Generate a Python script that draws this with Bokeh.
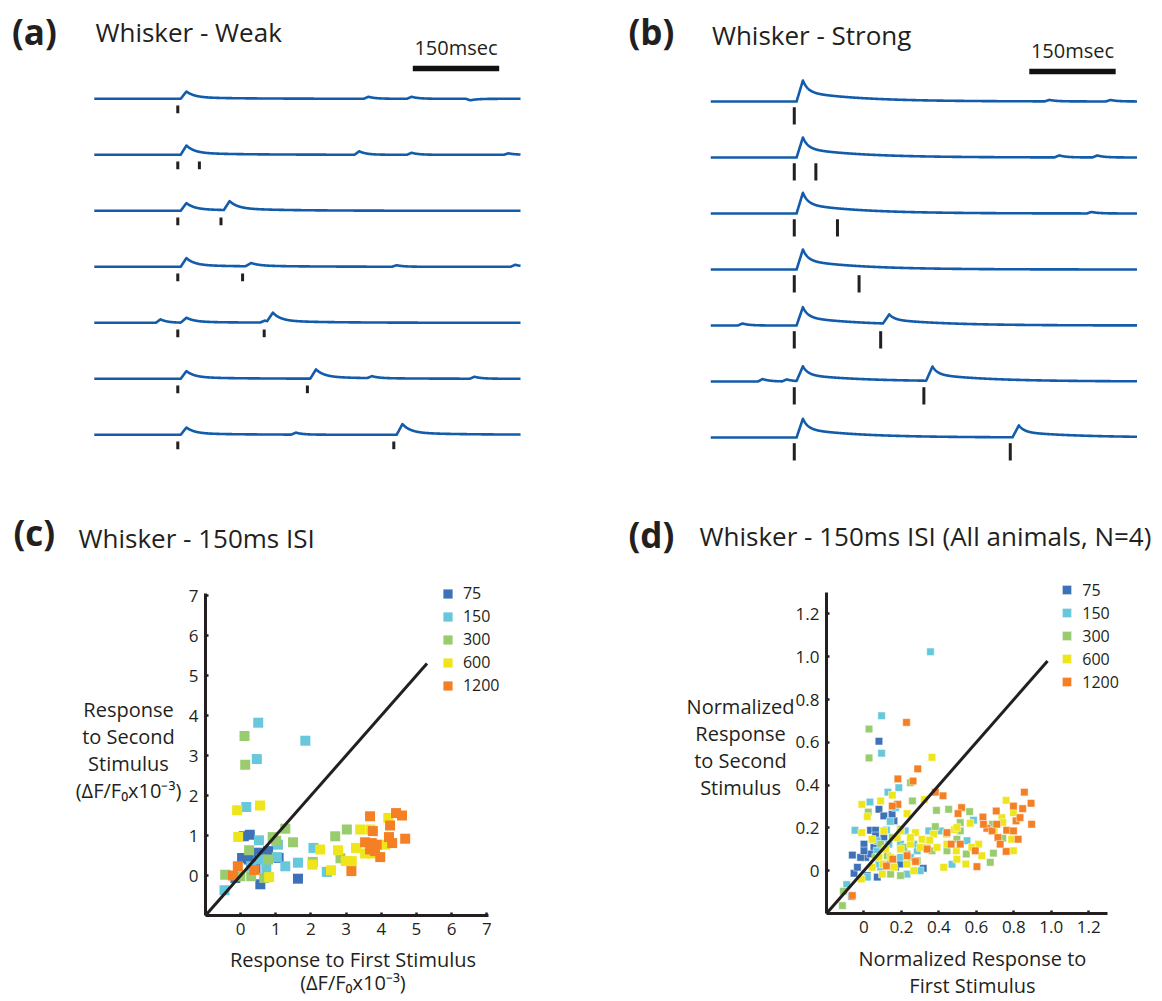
import numpy as np
from bokeh.plotting import figure
from bokeh.models import Range1d, Label, Legend, LegendItem, FixedTicker
from bokeh.layouts import row, column
from bokeh.embed import file_html
from bokeh.resources import INLINE

FONT = "Open Sans"
INK = "#231f20"
TRACE_BLUE = "#135cab"

# ---------------- panels (a) and (b): example traces ----------------
# times in ms relative to the first whisker stimulus
ISI_MS = [0, 37.5, 75, 112.5, 150, 225, 375]          # 0 = single stimulus
TRACE_T0, TRACE_T1 = -145, 595

WEAK_FIRST_AMP = [0.73, 0.93, 0.77, 0.87, 0.50, 0.77, 0.73]
WEAK_SECOND_AMP = [0.0, 0.0, 0.90, 0.33, 0.93, 0.93, 1.07]
WEAK_SMALL_ROW = [0, 0, 0, 1, 1, 1, 3, 3, 4, 4, 5, 5, 6]
WEAK_SMALL_T = [331, 406, 508, 315, 406, 574, 380, 586, -30, 151, 337, 515, 205]
WEAK_SMALL_AMP = [0.2, 0.2, -0.15, 0.35, 0.2, 0.15, 0.15, 0.2, 0.35, 0.2, 0.2, 0.2, 0.2]

STRONG_FIRST_AMP = [2.10, 2.00, 2.07, 2.00, 1.83, 1.50, 1.87]
STRONG_SECOND_AMP = [0.0, 0.0, 0.0, 0.0, 0.93, 1.43, 1.20]
STRONG_SMALL_ROW = [0, 0, 1, 1, 2, 4, 5, 5]
STRONG_SMALL_T = [443, 549, 460, 526, 516, -90, -55, -13]
STRONG_SMALL_AMP = [0.15, 0.15, 0.2, 0.2, 0.15, 0.2, 0.25, 0.2]

SCALE_BAR_MS = 150
SCALE_BAR_LABEL = "150msec"

# ---------------- panel (c): raw responses ----------------
SERIES = ["75", "150", "300", "600", "1200"]
COLORS = ["#3d72b8", "#67c8dc", "#99cc6e", "#efe51b", "#f47f24"]

C75_X = [0.26, 0.09, 0.04, 0.23, 0.51, 0.78, 1.08, -0.15, 0.56, 1.63, 0.42, 0.30]
C75_Y = [1.02, 0.98, 0.44, 0.40, 0.57, 0.61, 0.44, -0.06, -0.22, -0.08, 0.19, 0.30]
C150_X = [0.50, 0.46, 1.84, 0.16, 0.52, 1.06, 1.27, 1.63, 2.07, 2.45, -0.46, 0.73, 1.03, 0.58, 0.30]
C150_Y = [3.82, 2.91, 3.37, 1.71, 0.88, 0.77, 0.23, 0.32, 0.69, 0.09, -0.37, 0.17, 0.46, 0.40, 0.23]
C300_X = [0.11, 0.13, -0.44, 0.24, 0.91, 1.27, 1.49, 1.01, 0.78, 0.30, -0.01, 0.67, 2.69, 3.02, 2.84, 2.05]
C300_Y = [3.49, 2.77, 0.02, 0.63, 0.96, 1.17, 0.83, 0.87, 0.40, -0.02, -0.02, -0.06, 0.98, 1.15, 0.43, 0.34]
C600_X = [-0.10, 0.55, -0.07, 0.81, 2.26, 2.04, 2.57, 2.77, 2.99, 3.16, 3.28, 3.40, 3.69, 3.54, 3.73, 4.20, 4.11]
C600_Y = [1.63, 1.75, 0.96, -0.04, 0.65, 0.27, 0.13, 0.63, 0.36, 0.36, 0.69, 1.15, 1.15, 0.55, 0.55, 1.44, 0.77]
C1200_X = [-0.08, -0.22, 0.39, 3.68, 4.42, 4.59, 4.25, 3.76, 3.54, 3.73, 3.87, 3.68, 3.82, 3.97, 4.22, 4.31, 4.68, 3.15]
C1200_Y = [0.23, 0.00, 0.14, 1.48, 1.56, 1.50, 1.25, 1.11, 0.83, 0.81, 0.77, 0.65, 0.61, 0.46, 0.96, 0.81, 0.92, 0.11]
C_IDENTITY = [-1.0, 5.3]
C_AXIS_SPAN = (-1.0, 7.05)
C_TICKS = [0, 1, 2, 3, 4, 5, 6, 7]

# ---------------- panel (d): normalized responses, all animals ----------------
D75_X = [0.080, 0.080, 0.160, 0.035, 0.062, -0.062, -0.053, -0.035, 0.000, 0.009, 0.053, 0.106, 0.124,
         0.168, 0.195, 0.316, 0.150, -0.066, 0.018, 0.071, 0.106, -0.018, 0.098, 0.035, 0.062, 0.000]
D75_Y = [0.605, 0.287, 0.233, 0.189, 0.189, 0.073, -0.012, 0.016, 0.124, 0.062, 0.109, 0.155, 0.031,
         0.016, 0.031, 0.011, 0.264, -0.120, -0.023, -0.030, 0.256, 0.062, 0.109, 0.078, 0.163, 0.093]
D150_X = [0.355, 0.094, 0.094, 0.032, -0.048, 0.128, 0.186, 0.585, -0.092, 0.120, 0.140, 0.195, 0.230,
          0.018, 0.168, 0.284, 0.408, 0.470, 0.550, 0.070, 0.220, 0.300, 0.089, 0.071, 0.133, 0.195,
          0.266, 0.346, 0.080, 0.248]
D150_Y = [1.023, 0.724, 0.549, 0.321, 0.189, 0.367, 0.388, 0.236, -0.065, 0.190, 0.230, 0.124, -0.016,
          -0.030, 0.295, 0.093, 0.186, 0.030, 0.140, 0.093, 0.186, 0.000, 0.016, 0.140, 0.124, 0.062,
          0.124, 0.186, 0.031, 0.062]
D300_X = [0.027, 0.027, 0.023, 0.248, 0.259, 0.177, 0.387, 0.452, 0.564, 0.381, 0.514, 0.674, 0.741,
          0.691, 0.546, -0.115, -0.110, 0.195, 0.142, 0.106, 0.230, 0.443, 0.337, 0.062, 0.514, 0.496,
          0.686, 0.089, 0.151, 0.213, 0.284, 0.124, 0.363, 0.195]
D300_Y = [0.662, 0.527, 0.274, 0.411, 0.326, 0.310, 0.282, 0.287, 0.276, 0.206, 0.186, 0.039, 0.152,
          0.082, 0.078, -0.163, -0.096, -0.023, -0.016, 0.109, 0.078, 0.093, 0.109, 0.062, 0.225, 0.147,
          0.217, 0.124, 0.155, 0.109, 0.047, 0.070, 0.093, 0.194]
D600_X = [0.363, -0.011, 0.018, -0.012, 0.151, 0.089, 0.323, 0.230, 0.759, 0.798, 0.736, 0.741, 0.482,
          0.567, 0.789, 0.426, 0.496, 0.544, 0.629, 0.275, 0.310, 0.346, 0.372, 0.248, 0.195, 0.177,
          0.115, 0.080, 0.044, 0.098, -0.014, 0.266, 0.390, 0.142, 0.443, 0.612, 0.496, 0.440, 0.493,
          0.576, 0.798, 0.695, 0.043, 0.195, 0.248, 0.106, 0.301, 0.160, 0.230, 0.351, 0.101]
D600_Y = [0.530, 0.310, 0.253, 0.178, 0.353, 0.326, 0.333, 0.267, 0.329, 0.271, 0.248, 0.225, 0.192,
          0.222, 0.147, 0.016, 0.054, 0.031, 0.070, 0.178, 0.147, 0.140, 0.171, 0.124, 0.101, 0.155,
          0.101, 0.062, 0.016, -0.016, -0.039, 0.000, 0.109, 0.062, 0.124, 0.124, 0.202, 0.171, 0.093,
          0.109, 0.093, 0.186, 0.147, 0.186, 0.155, 0.186, 0.109, 0.016, 0.031, 0.143, 0.031]
D1200_X = [0.227, 0.287, 0.181, 0.262, 0.181, 0.151, 0.381, 0.422, 0.521, 0.502, 0.443, 0.465, 0.514,
           0.594, 0.603, 0.635, 0.706, 0.656, 0.684, 0.715, 0.762, 0.798, 0.812, 0.823, 0.856, 0.892,
           0.847, 0.895, 0.759, 0.337, 0.230, 0.120, 0.154, -0.062, 0.275, 0.638, 0.727, 0.798, 0.833,
           0.709]
D1200_Y = [0.693, 0.476, 0.429, 0.419, 0.310, 0.302, 0.367, 0.350, 0.295, 0.267, 0.178, 0.124, 0.124,
           0.093, 0.019, 0.251, 0.279, 0.198, 0.186, 0.155, 0.189, 0.302, 0.233, 0.147, 0.367, 0.315,
           0.290, 0.217, 0.090, 0.101, 0.070, 0.022, 0.054, -0.116, 0.043, 0.217, 0.124, 0.186, 0.248,
           0.217]
D_IDENTITY = [-0.2, 0.98]
D_AXIS_SPAN = (-0.2, 1.3)
D_TICKS = [0, 0.2, 0.4, 0.6, 0.8, 1.0, 1.2]
D_TICK_TEXT = ["0", "0.2", "0.4", "0.6", "0.8", "1.0", "1.2"]


# ---------------- helpers ----------------
def kernel(t, onset, amp, rise, tau_f, slow_frac, tau_s):
    """Shape of one calcium transient (linear rise, two-exponential decay)."""
    y = np.zeros_like(t)
    dt = t - onset
    up = (dt >= 0) & (dt < rise)
    y[up] = amp * dt[up] / rise
    dn = dt >= rise
    d = dt[dn] - rise
    y[dn] = amp * ((1 - slow_frac) * np.exp(-d / tau_f) + slow_frac * np.exp(-d / tau_s))
    return y


def add_text(p, x, y, text, size, bold=False, align="left"):
    p.add_layout(Label(x=x, y=y, text=text, text_font=FONT, text_font_size=size,
                       text_font_style="bold" if bold else "normal", text_color=INK,
                       text_align=align, text_baseline="middle"))


def trace_panel(x_range, tag, title, first_amp, second_amp, small_row, small_t, small_amp,
                kin, base0, tick_span, bar_y, bar_text_y, tag_y, title_y):
    p = figure(frame_width=581, frame_height=480, x_range=x_range, y_range=Range1d(-48, 0),
               x_axis_location=None, y_axis_location=None, min_border=0,
               output_backend="svg", toolbar_location=None)
    p.grid.visible = False
    p.outline_line_color = None
    t = np.arange(TRACE_T0, TRACE_T1 + 0.5, 0.5)
    xs, ys = [], []
    tx, ty0, ty1 = [], [], []
    row_gap = 5.6
    for i, isi in enumerate(ISI_MS):
        base = base0 - i * row_gap
        y = np.full_like(t, base)
        y += kernel(t, kin["lat"], first_amp[i], kin["rise"], kin["tau_f"], kin["slow"], kin["tau_s"])
        stims = [0.0]
        if isi > 0:
            stims.append(isi)
            if second_amp[i] > 0:
                y += kernel(t, isi + kin["lat"], second_amp[i], kin["rise"], kin["tau_f"],
                            kin["slow"], kin["tau_s"])
        for r, tt, a in zip(small_row, small_t, small_amp):
            if r == i:
                y += kernel(t, tt - 8, a, 8, 12, 0.0, 1.0)
        xs.append(t)
        ys.append(y)
        for s in stims:
            tx.append(s)
            ty0.append(base - tick_span[0])
            ty1.append(base - tick_span[1])
    p.multi_line(xs=xs, ys=ys, line_color=TRACE_BLUE, line_width=2.6, line_join="round")
    p.segment(x0=tx, x1=tx, y0=ty0, y1=ty1, line_color=INK, line_width=3, line_cap="butt")
    bar_t0 = 408
    p.segment(x0=[bar_t0], x1=[bar_t0 + SCALE_BAR_MS], y0=[bar_y], y1=[bar_y],
              line_color="#111111", line_width=5.5, line_cap="butt")
    add_text(p, bar_t0 + SCALE_BAR_MS / 2, bar_text_y, SCALE_BAR_LABEL, "20px", align="center")
    add_text(p, -288, tag_y, tag, "35px", bold=True)
    add_text(p, -143, title_y, title, "26px")
    return p


WEAK_KIN = dict(lat=5, rise=10, tau_f=14, slow=0.2, tau_s=90)
STRONG_KIN = dict(lat=4, rise=11, tau_f=9, slow=0.45, tau_s=100)

pa = trace_panel(Range1d(-307.8, 700.9), "(a)", "Whisker - Weak", WEAK_FIRST_AMP, WEAK_SECOND_AMP,
                 WEAK_SMALL_ROW, WEAK_SMALL_T, WEAK_SMALL_AMP, WEAK_KIN, -9.83, (0.67, 1.44),
                 -6.79, -4.72, -3.05, -3.16)
pb = trace_panel(Range1d(-369.4, 639.3), "(b)", "Whisker - Strong", STRONG_FIRST_AMP, STRONG_SECOND_AMP,
                 STRONG_SMALL_ROW, STRONG_SMALL_T, STRONG_SMALL_AMP, STRONG_KIN, -10.1, (0.57, 2.3),
                 -7.1, -4.95, -3.13, -3.49)


def scatter_panel(xr, yr, span, ticks, tick_text, series_xy, marker_size, edge, identity, legend_loc):
    p = figure(frame_width=581, frame_height=521, x_range=xr, y_range=yr, min_border=0,
               output_backend="svg", toolbar_location=None)
    p.grid.visible = False
    p.outline_line_color = None
    overrides = {tk: tt for tk, tt in zip(ticks, tick_text)}
    p.xaxis.fixed_location = span[0]
    p.yaxis.fixed_location = span[0]
    for ax in (p.xaxis[0], p.yaxis[0]):
        ax.bounds = span
        ax.ticker = FixedTicker(ticks=ticks)
        ax.major_label_overrides = overrides
        ax.axis_line_color = INK
        ax.axis_line_width = 3
        ax.major_tick_in = 3
        ax.major_tick_out = 0
        ax.major_tick_line_color = INK
        ax.major_tick_line_width = 2.5
        ax.minor_tick_line_color = None
        ax.major_label_text_font = FONT
        ax.major_label_text_font_size = "17px"
        ax.major_label_text_color = INK
        ax.major_label_standoff = 7
    items = []
    for (sx, sy), col, lab in zip(series_xy, COLORS, SERIES):
        if edge:
            r = p.scatter(sx, sy, marker="square", size=marker_size, fill_color=col,
                          line_color="white", line_width=0.6, line_alpha=0.8)
        else:
            r = p.scatter(sx, sy, marker="square", size=marker_size, fill_color=col, line_color=None)
        items.append(LegendItem(label=lab, renderers=[r]))
    p.line(identity, identity, line_color=INK, line_width=3)
    leg = Legend(items=items, location=legend_loc, glyph_width=23, glyph_height=23,
                 label_height=23, label_standoff=4, spacing=0, padding=0, margin=0,
                 border_line_color=None, background_fill_alpha=0,
                 label_text_font=FONT, label_text_font_size="16px", label_text_color=INK)
    p.add_layout(leg)
    return p


pc = scatter_panel(Range1d(-6.831, 9.695), Range1d(-3.15, 9.875), C_AXIS_SPAN,
                   C_TICKS, [str(v) for v in C_TICKS],
                   [(C75_X, C75_Y), (C150_X, C150_Y), (C300_X, C300_Y), (C600_X, C600_Y),
                    (C1200_X, C1200_Y)], 10, False, C_IDENTITY, (435.9, 304.5))
add_text(pc, -6.462, 8.57, "(c)", "35px", bold=True)
add_text(pc, -4.613, 8.43, "Whisker - 150ms ISI", "26px")
for txt, yy in zip(["Response", "to Second", "Stimulus", "(ΔF/F₀x10⁻³)"], [4.15, 3.475, 2.79, 2.125]):
    add_text(pc, -3.19, yy, txt, "20px", align="center")
for txt, yy in zip(["Response to First Stimulus", "(ΔF/F₀x10⁻³)"], [-2.1, -2.667]):
    add_text(pc, 3.194, yy, txt, "20px", align="center")

pd_ = scatter_panel(Range1d(-1.5079, 1.5936), Range1d(-0.6112, 1.8234), D_AXIS_SPAN,
                    D_TICKS, D_TICK_TEXT,
                    [(D75_X, D75_Y), (D150_X, D150_Y), (D300_X, D300_Y), (D600_X, D600_Y),
                     (D1200_X, D1200_Y)], 7.5, True, D_IDENTITY, (474.3, 307.8))
add_text(pd_, -1.257, 1.573, "(d)", "35px", bold=True)
add_text(pd_, -0.878, 1.562, "Whisker - 150ms ISI (All animals, N=4)", "26px")
for txt, yy in zip(["Normalized", "Response", "to Second", "Stimulus"], [0.767, 0.640, 0.515, 0.390]):
    add_text(pd_, -0.659, yy, txt, "20px", align="center")
for txt, yy in zip(["Normalized Response to", "First Stimulus"], [-0.41, -0.536]):
    add_text(pd_, 0.579, yy, txt, "20px", align="center")

layout = column(row(pa, pb), row(pc, pd_))
open("out.html", "w").write(file_html(layout, INLINE))
